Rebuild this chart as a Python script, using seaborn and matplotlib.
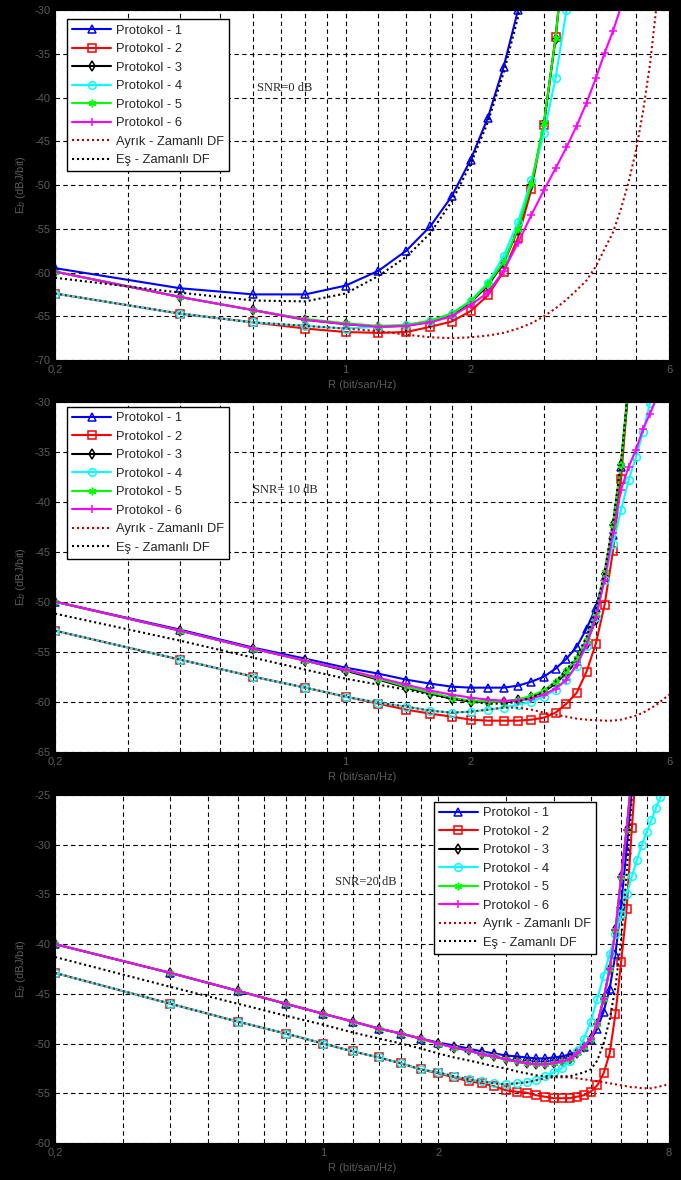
import matplotlib
matplotlib.use('Agg')
import matplotlib.pyplot as plt
from matplotlib.ticker import NullLocator
import seaborn as sns

sns.set_style('white')
plt.rcParams['font.family'] = ['Liberation Sans', 'DejaVu Sans']

# Eje R (bit/san/Hz), paso 0.2
R = [0.2, 0.4, 0.6, 0.8, 1.0, 1.2, 1.4, 1.6, 1.8, 2.0, 2.2, 2.4, 2.6, 2.8, 3.0,
     3.2, 3.4, 3.6, 3.8, 4.0, 4.2, 4.4, 4.6, 4.8, 5.0, 5.2, 5.4, 5.6, 5.8, 6.0,
     6.2, 6.4, 6.6, 6.8, 7.0, 7.2, 7.4, 7.6, 7.8, 8.0]

etiquetas = ['Protokol - 1', 'Protokol - 2', 'Protokol - 3', 'Protokol - 4',
             'Protokol - 5', 'Protokol - 6', 'Ayrık - Zamanlı DF', 'Eş - Zamanlı DF']

# ---------------- SNR = 0 dB ----------------
snr0_p1 = [-59.5, -61.8, -62.5, -62.5, -61.5, -59.8, -57.5, -54.7, -51.3, -47.1, -42.3, -36.5, -30.0]
snr0_p2 = [-62.4, -64.7, -65.7, -66.4, -66.8, -66.9, -66.8, -66.2, -65.6, -64.4, -62.6, -59.9, -56.0,
           -50.5, -43.1, -33.1, -21.0]
snr0_p3 = [-59.9, -62.8, -64.3, -65.4, -65.9, -66.2, -66.1, -65.6, -64.8, -63.4, -61.5, -58.9, -55.1,
           -50.0, -43.0, -33.3, -21.0]
snr0_p4 = [-62.4, -64.7, -65.7, -66.1, -66.4, -66.2, -66.0, -65.5, -64.7, -63.2, -61.2, -58.1, -54.2,
           -49.4, -44.1, -37.8, -30.0]
snr0_p5 = [-59.9, -62.8, -64.3, -65.3, -65.8, -66.1, -66.0, -65.5, -64.7, -63.3, -61.3, -58.8, -55.0,
           -49.9, -42.9, -33.2, -21.0]
snr0_p6 = [-59.9, -62.8, -64.3, -65.4, -65.9, -66.2, -66.1, -65.7, -65.0, -63.7, -62.3, -59.8, -56.6,
           -53.4, -50.6, -48.1, -45.7, -43.2, -40.6, -37.8, -34.9, -32.4, -29.6]
snr0_ayrik = [-62.4, -64.7, -65.7, -66.1, -66.4, -66.7, -67.1, -67.4, -67.5, -67.4, -67.2, -66.9, -66.4,
              -65.8, -65.0, -64.1, -63.1, -62.0, -60.9, -59.3, -57.3, -55.4, -52.7, -49.6, -46.0,
              -41.5, -36.2, -29.5]
snr0_es = [-60.6, -62.3, -63.2, -63.3, -62.4, -60.4, -58.2, -55.5, -51.9, -47.6, -42.8, -37.2, -30.8, -23.5]

# ---------------- SNR = 10 dB ----------------
snr10_p1 = [-50.0, -52.8, -54.6, -55.7, -56.6, -57.2, -57.8, -58.2, -58.5, -58.6, -58.6, -58.6, -58.4,
            -58.0, -57.5, -56.7, -55.7, -54.5, -52.7, -50.6, -47.5, -43.3, -36.5, -28.5]
snr10_p2 = [-52.9, -55.8, -57.5, -58.6, -59.5, -60.2, -60.8, -61.2, -61.5, -61.8, -61.9, -61.9, -61.9,
            -61.8, -61.6, -61.1, -60.2, -59.1, -57.0, -54.2, -50.3, -44.9, -37.7, -28.0]
snr10_p3 = [-50.0, -52.9, -54.7, -55.9, -56.9, -57.8, -58.6, -59.2, -59.7, -60.0, -60.0, -60.0, -59.8,
            -59.5, -59.0, -58.2, -57.1, -56.0, -54.2, -51.8, -47.2, -42.3, -36.3, -28.0]
snr10_p4 = [-52.9, -55.8, -57.5, -58.6, -59.5, -60.1, -60.5, -60.9, -61.1, -61.0, -60.8, -60.6, -60.3,
            -60.0, -59.5, -58.8, -57.8, -56.4, -54.4, -51.5, -47.8, -44.2, -40.8, -37.8, -35.5, -33.0, -30.1]
snr10_p5 = [-50.0, -52.9, -54.7, -55.9, -56.8, -57.7, -58.5, -59.1, -59.6, -59.9, -60.0, -60.0, -59.8,
            -59.4, -58.9, -58.0, -56.9, -55.6, -53.8, -51.2, -47.0, -42.3, -36.3, -28.0]
snr10_p6 = [-50.0, -52.9, -54.7, -55.9, -56.8, -57.6, -58.3, -58.9, -59.3, -59.6, -59.8, -59.9, -59.9,
            -59.7, -59.3, -58.7, -57.8, -56.3, -54.3, -51.5, -47.8, -43.1, -38.8, -36.5, -34.8, -32.7,
            -31.2, -29.6]
snr10_ayrik = [-52.9, -55.8, -57.5, -58.6, -59.5, -60.1, -60.5, -60.9, -61.1, -61.0, -60.8, -60.6, -60.6,
               -60.8, -61.1, -61.3, -61.5, -61.7, -61.8, -61.85, -61.9, -61.9, -61.8, -61.6, -61.4,
               -61.1, -60.7, -60.3, -59.8, -59.3]
snr10_es = [-51.2, -53.9, -55.6, -56.8, -57.7, -58.3, -58.8, -59.3, -59.7, -60.0, -60.2, -60.2, -60.0,
            -59.6, -59.0, -58.0, -56.8, -55.5, -53.5, -50.8, -47.0, -42.0, -36.0, -28.0]

# ---------------- SNR = 20 dB ----------------
snr20_p1 = [-40.0, -42.9, -44.7, -46.0, -47.0, -47.8, -48.5, -49.0, -49.5, -49.9, -50.2, -50.5, -50.8,
            -51.0, -51.2, -51.3, -51.4, -51.5, -51.5, -51.4, -51.3, -51.1, -50.8, -50.3, -49.6, -48.5,
            -46.8, -44.5, -41.0, -36.0, -30.5, -24.5]
snr20_p2 = [-42.9, -46.0, -47.8, -49.0, -50.0, -50.8, -51.4, -52.0, -52.6, -53.0, -53.4, -53.8, -54.0,
            -54.3, -54.7, -54.85, -54.95, -55.2, -55.35, -55.5, -55.5, -55.5, -55.35, -55.2, -54.85,
            -54.2, -53.0, -51.0, -47.0, -41.8, -36.5, -28.3, -21.0]
snr20_p3 = [-40.0, -42.9, -44.7, -46.0, -47.0, -47.8, -48.5, -49.0, -49.5, -50.0, -50.4, -50.7, -51.1,
            -51.3, -51.6, -51.8, -52.0, -52.1, -52.1, -52.0, -51.8, -51.6, -51.0, -50.3, -49.5, -48.0,
            -45.5, -42.5, -38.6, -33.3, -28.5, -23.0]
snr20_p4 = [-42.9, -46.0, -47.8, -49.0, -50.0, -50.8, -51.4, -52.0, -52.6, -52.9, -53.3, -53.6, -53.8,
            -54.0, -54.1, -54.0, -53.9, -53.7, -53.3, -52.9, -52.5, -51.8, -50.8, -49.5, -47.8, -45.5,
            -43.2, -41.0, -39.0, -37.0, -35.0, -33.2, -31.5, -30.0, -28.7, -27.5, -26.3, -25.2, -24.0]
snr20_p5 = [-40.0, -42.9, -44.7, -46.0, -47.0, -47.8, -48.5, -49.0, -49.5, -50.0, -50.4, -50.7, -51.1,
            -51.3, -51.6, -51.8, -52.0, -52.1, -52.1, -52.0, -51.8, -51.6, -51.0, -50.3, -49.5, -48.0,
            -45.5, -42.5, -38.6, -33.3, -28.5, -23.0]
snr20_p6 = [-40.0, -42.9, -44.7, -46.0, -47.0, -47.8, -48.5, -49.0, -49.5, -50.0, -50.4, -50.7, -51.1,
            -51.3, -51.6, -51.8, -52.0, -52.1, -52.1, -52.0, -51.8, -51.6, -51.0, -50.3, -49.5, -48.0,
            -45.5, -42.5, -38.6, -33.3, -28.5, -23.0]
snr20_ayrik = [-42.9, -46.0, -47.8, -49.0, -50.0, -50.8, -51.4, -52.0, -52.6, -52.9, -53.3, -53.6, -53.8,
               -54.0, -54.1, -54.0, -53.9, -53.7, -53.5, -53.4, -53.4, -53.4, -53.5, -53.6, -53.7,
               -53.8, -53.9, -54.0, -54.1, -54.2, -54.3, -54.4, -54.4, -54.5, -54.5, -54.5, -54.4,
               -54.3, -54.2, -54.0]
snr20_es = [-41.3, -44.3, -46.0, -47.2, -48.1, -48.9, -49.5, -50.0, -50.5, -51.0, -51.4, -51.7, -52.0,
            -52.3, -52.5, -52.8, -53.0, -53.2, -53.3, -53.3, -53.3, -53.3, -53.1, -52.9, -52.6, -51.7,
            -50.0, -47.6, -44.3, -39.5, -33.0, -25.0]

# estilos de cada curva (color, marcador, tipo de linea)
colores = ['#0000ff', '#ff0000', '#000000', '#00ffff', '#00ff00', '#ff00ff', '#b80000', '#000000']
marcadores = ['^', 's', 'd', 'o', (6, 2, 0), '+', None, None]
lineas = ['-', '-', '-', '-', '-', '-', (0, (1, 1.4)), (0, (1, 1.4))]

gris = '#5a5a5a'

fig = plt.figure(figsize=(6.81, 11.8), dpi=100, facecolor='black')


def dibujar(ax, series, xmax, ylo, yhi, xt, xt_lab, snr, snr_xy, leg_loc, leg_anchor):
    for i, y in enumerate(series):
        x = R[:len(y)]
        kw = dict(color=colores[i], linestyle=lineas[i], lw=1.5, label=etiquetas[i])
        if marcadores[i] is not None:
            kw.update(marker=marcadores[i], markersize=5.5, markerfacecolor='none',
                      markeredgecolor=colores[i], markeredgewidth=1.1)
        sns.lineplot(x=x, y=y, ax=ax, sort=False, **kw)
    ax.set_xscale('log')
    ax.set_xlim(0.2, xmax)
    ax.set_ylim(ylo, yhi)
    ax.set_xticks(xt, xt_lab)
    ax.xaxis.set_minor_locator(NullLocator())
    yt = list(range(yhi, ylo - 1, -5))
    ax.set_yticks(yt, [str(v) for v in yt])
    ax.set_facecolor('white')
    ax.grid(True, color='black', linestyle=(0, (4, 3)), lw=0.8)
    ax.tick_params(direction='in', length=4, colors=gris, labelsize=8)
    ax.tick_params(color='black')
    for s in ax.spines.values():
        s.set_color('black')
    ax.set_xlabel('R (bit/san/Hz)', color=gris, fontsize=8, labelpad=4)
    ax.set_ylabel('E$_b$ (dBJ/bit)', color=gris, fontsize=8, labelpad=4)
    ax.text(snr_xy[0], snr_xy[1], snr, transform=ax.transAxes, fontsize=9,
            family='Liberation Serif', va='center', ha='left')
    ax.legend(loc=leg_loc, bbox_to_anchor=leg_anchor, borderaxespad=0, fancybox=False,
              edgecolor='black', framealpha=1, fontsize=9.3, handlelength=3.0,
              handletextpad=0.4, labelspacing=0.5, borderpad=0.4)


xt6 = [0.2, 0.3, 0.4, 0.5, 0.6, 0.7, 0.8, 0.9, 1, 1.2, 1.4, 1.6, 1.8, 2, 3, 4, 5, 6]
xt6_lab = ['0,2', '', '', '', '', '', '', '', '1', '', '', '', '', '2', '', '', '', '6']
xt8 = [0.2, 0.3, 0.4, 0.5, 0.6, 0.7, 0.8, 0.9, 1, 1.2, 1.4, 1.6, 1.8, 2, 3, 4, 5, 6, 7, 8]
xt8_lab = ['0,2', '', '', '', '', '', '', '', '1', '', '', '', '', '2', '', '', '', '', '', '8']

ax1 = fig.add_axes([0.0808, 0.6949, 0.9016, 0.2966])
dibujar(ax1, [snr0_p1, snr0_p2, snr0_p3, snr0_p4, snr0_p5, snr0_p6, snr0_ayrik, snr0_es],
        6, -70, -30, xt6, xt6_lab, 'SNR=0 dB', (0.3285, 0.778), 'upper left', (0.0195, 0.973))

ax2 = fig.add_axes([0.0808, 0.3630, 0.9016, 0.2966])
dibujar(ax2, [snr10_p1, snr10_p2, snr10_p3, snr10_p4, snr10_p5, snr10_p6, snr10_ayrik, snr10_es],
        6, -65, -30, xt6, xt6_lab, 'SNR= 10 dB', (0.322, 0.748), 'upper left', (0.0195, 0.985))

ax3 = fig.add_axes([0.0808, 0.0314, 0.9016, 0.2949])
dibujar(ax3, [snr20_p1, snr20_p2, snr20_p3, snr20_p4, snr20_p5, snr20_p6, snr20_ayrik, snr20_es],
        8, -60, -25, xt8, xt8_lab, 'SNR=20 dB', (0.456, 0.75), 'upper right', (0.881, 0.98))

fig.savefig('out.png', dpi=100, facecolor='black')
